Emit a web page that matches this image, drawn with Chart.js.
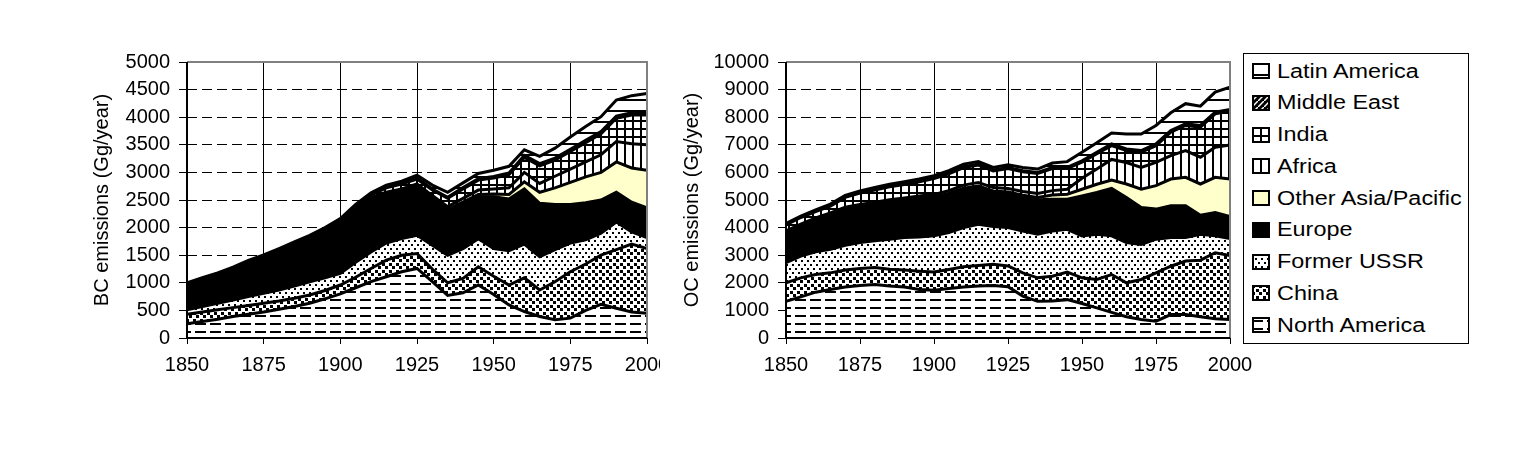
<!DOCTYPE html>
<html>
<head>
<meta charset="utf-8">
<script src="https://cdn.jsdelivr.net/npm/chart.js@4.4.0/dist/chart.umd.min.js"></script>
<style>
  body { margin: 0; background: #fff; width: 1539px; height: 452px; overflow: hidden; position: relative;
         font-family: 'Liberation Sans', Arial, sans-serif; }
  .plot { position: absolute; top: 0; }
  #bcChart { left: 0; }
  #ocChart { left: 660px; }
  #legend { position: absolute; left: 1243px; top: 53px; width: 224px; height: 289px;
            border: 1px solid #000; background: #fff; }
  .item { position: absolute; left: 0; height: 32px; display: flex; align-items: center; }
  .item canvas { margin-left: 8px; margin-right: 7px; }
  .item span { font-size: 20px; transform: scaleX(1.17); transform-origin: left center; white-space: nowrap; }
</style>
</head>
<body>
<canvas id="bcChart" class="plot" width="660" height="452"></canvas>
<canvas id="ocChart" class="plot" width="600" height="452"></canvas>
<div id="legend"></div>
<script>
// years on the x axis (5-year steps)
const years = [1850, 1855, 1860, 1865, 1870, 1875, 1880, 1885, 1890, 1895, 1900, 1905, 1910, 1915, 1920,
               1925, 1930, 1935, 1940, 1945, 1950, 1955, 1960, 1965, 1970, 1975, 1980, 1985, 1990, 1995, 2000];

// stacking order, bottom to top
const regions = ['North America', 'China', 'Former USSR', 'Europe', 'Other Asia/Pacific',
                 'Africa', 'India', 'Middle East', 'Latin America'];

// BC emissions (Gg/year) per region
const bcNorthAmerica = [260, 300, 340, 390, 430, 470, 520, 570, 630, 710, 800, 910, 1020, 1110, 1200,
                        1260, 1020, 770, 820, 960, 790, 600, 480, 390, 330, 360, 500, 610, 540, 470, 450];
const bcChina        = [170, 170, 170, 160, 160, 160, 150, 150, 150, 150, 160, 190, 240, 300, 300,
                        270, 230, 230, 260, 330, 330, 360, 610, 480, 690, 840, 840, 890, 1060, 1230, 1170];
const bcFormerUSSR   = [80, 100, 120, 140, 160, 180, 200, 220, 240, 230, 210, 270, 300, 310, 300,
                        330, 430, 500, 540, 510, 500, 620, 610, 600, 580, 520, 440, 400, 500, 220, 200];
const bcEurope       = [430, 460, 480, 520, 580, 620, 670, 710, 750, 810, 890, 930, 940, 860, 840,
                        860, 820, 800, 800, 760, 940, 940, 1000, 970, 820, 700, 670, 600, 540, 540, 540];
const bcOtherAsia    = [10, 10, 10, 10, 10, 10, 10, 10, 10, 15, 15, 15, 20, 20, 20,
                        30, 30, 30, 40, 40, 50, 80, 130, 200, 300, 400, 470, 500, 550, 620, 680];
const bcAfrica       = [10, 10, 15, 15, 15, 15, 15, 20, 20, 20, 20, 25, 25, 40, 40,
                        40, 50, 50, 70, 80, 90, 120, 170, 160, 210, 240, 270, 320, 370, 440, 460];
const bcIndia        = [15, 20, 20, 25, 25, 25, 25, 30, 30, 35, 35, 40, 45, 80, 90,
                        90, 100, 150, 170, 180, 200, 240, 270, 320, 290, 320, 350, 380, 420, 520, 540];
const bcMiddleEast   = [10, 10, 10, 10, 10, 10, 10, 10, 10, 10, 10, 15, 15, 15, 15,
                        20, 20, 20, 25, 25, 25, 30, 40, 40, 40, 40, 40, 40, 40, 40, 40];
const bcLatinAmerica = [15, 15, 15, 15, 15, 15, 20, 20, 20, 20, 25, 25, 25, 35, 35,
                        50, 70, 90, 85, 95, 115, 120, 100, 130, 180, 220, 250, 270, 290, 310, 350];

// OC emissions (Gg/year) per region
const ocNorthAmerica = [1330, 1490, 1660, 1760, 1850, 1900, 1940, 1880, 1850, 1760, 1730, 1790, 1850, 1880, 1900,
                        1860, 1520, 1330, 1340, 1390, 1250, 1090, 930, 770, 670, 610, 850, 850, 770, 700, 670];
const ocChina        = [670, 690, 640, 600, 610, 620, 610, 610, 610, 660, 660, 690, 730, 750, 770,
                        750, 840, 850, 900, 1000, 930, 1030, 1370, 1230, 1450, 1750, 1750, 1940, 2050, 2390, 2320];
const ocFormerUSSR   = [730, 790, 820, 850, 900, 940, 970, 1090, 1180, 1240, 1310, 1340, 1420, 1490, 1370,
                        1390, 1520, 1580, 1640, 1550, 1520, 1640, 1400, 1460, 1270, 1220, 1040, 850, 940, 610, 610];
const ocEurope       = [1090, 1090, 1160, 1240, 1280, 1270, 1290, 1310, 1310, 1350, 1360, 1360, 1370, 1330, 1230,
                        1230, 1210, 1250, 1150, 1090, 1450, 1510, 1720, 1630, 1340, 1090, 1150, 1150, 690, 850, 800];
const ocOtherAsia    = [20, 25, 25, 30, 35, 40, 40, 45, 45, 50, 55, 55, 60, 60, 60,
                        60, 80, 80, 150, 180, 240, 300, 300, 490, 660, 850, 970, 1030, 1130, 1270, 1360];
const ocAfrica       = [40, 45, 50, 55, 60, 65, 70, 75, 80, 85, 90, 100, 110, 120, 120,
                        130, 140, 150, 160, 180, 400, 550, 750, 780, 790, 840, 850, 970, 970, 1090, 1230];
const ocIndia        = [220, 235, 225, 245, 360, 415, 445, 470, 490, 515, 570, 615, 635, 635, 605,
                        720, 710, 720, 800, 750, 580, 560, 500, 430, 550, 610, 850, 910, 1090, 1210, 1230];
const ocMiddleEast   = [20, 20, 20, 25, 25, 25, 25, 30, 30, 30, 30, 30, 35, 35, 35,
                        40, 40, 40, 40, 40, 50, 50, 60, 60, 60, 60, 60, 60, 60, 60, 60];
const ocLatinAmerica = [30, 35, 40, 45, 50, 55, 60, 60, 65, 70, 75, 80, 90, 90, 90,
                        100, 120, 120, 160, 210, 310, 340, 400, 540, 600, 670, 640, 730, 700, 730, 810];

const bcSeries = [bcNorthAmerica, bcChina, bcFormerUSSR, bcEurope, bcOtherAsia,
                  bcAfrica, bcIndia, bcMiddleEast, bcLatinAmerica];
const ocSeries = [ocNorthAmerica, ocChina, ocFormerUSSR, ocEurope, ocOtherAsia,
                  ocAfrica, ocIndia, ocMiddleEast, ocLatinAmerica];

// fill style for each region, same order as regions
const fillKinds = ['dash', 'squares', 'dots', '#000000', '#FFFFCC', 'vlines', 'grid', 'diag', 'hlines'];

// black & white hatch tiles like the old Excel patterns
function makePattern(kind) {
  const tiles = { dash: [15, 8], squares: [7, 7], dots: [6, 8], vlines: [8, 8], grid: [8, 8], diag: [6, 6], hlines: [8, 11] };
  if (!tiles[kind]) return kind;
  const c = document.createElement('canvas');
  c.width = tiles[kind][0];
  c.height = tiles[kind][1];
  const g = c.getContext('2d');
  g.fillStyle = kind === 'diag' ? '#000' : '#fff';
  g.fillRect(0, 0, c.width, c.height);
  g.fillStyle = '#000';
  if (kind === 'dash') g.fillRect(0, 3, 11, 2);
  if (kind === 'squares') { g.fillRect(0, 0, 3, 3); g.fillRect(4, 4, 3, 3); }
  if (kind === 'dots') { g.fillRect(0, 0, 2, 2); g.fillRect(3, 4, 2, 2); }
  if (kind === 'vlines') g.fillRect(0, 0, 2, 8);
  if (kind === 'grid') { g.fillRect(0, 0, 2, 8); g.fillRect(0, 0, 8, 2); }
  if (kind === 'hlines') g.fillRect(0, 0, 8, 2);
  if (kind === 'diag') {
    g.strokeStyle = '#fff';
    g.lineWidth = 1.5;
    g.beginPath(); g.moveTo(0, 6); g.lineTo(6, 0); g.stroke();
  }
  return g.createPattern(c, 'repeat');
}

// Excel-like plot frame: black axes, grey top/right edge
const plotFrame = {
  id: 'plotFrame',
  afterDatasetsDraw(chart) {
    const { ctx, chartArea: a } = chart;
    ctx.save();
    ctx.lineWidth = 2;
    ctx.strokeStyle = '#808080';
    ctx.beginPath();
    ctx.moveTo(a.left, a.top); ctx.lineTo(a.right, a.top); ctx.lineTo(a.right, a.bottom);
    ctx.stroke();
    ctx.strokeStyle = '#000';
    ctx.beginPath();
    ctx.moveTo(a.left, a.top); ctx.lineTo(a.left, a.bottom); ctx.lineTo(a.right, a.bottom);
    ctx.stroke();
    ctx.restore();
  }
};

Chart.defaults.font.family = "'Liberation Sans', Arial, sans-serif";
Chart.defaults.color = '#000';

function makeChart(canvasId, series, cfg) {
  const datasets = series.map((vals, i) => ({
    label: regions[i],
    data: vals.map((v, k) => ({ x: years[k], y: v })),
    backgroundColor: makePattern(fillKinds[i]),
    borderColor: '#000',
    borderWidth: 3,
    pointRadius: 0,
    tension: 0,
    fill: i === 0 ? 'origin' : '-1'
  }));

  return new Chart(document.getElementById(canvasId), {
    type: 'line',
    data: { datasets },
    options: {
      responsive: false,
      animation: false,
      devicePixelRatio: 1,
      layout: { padding: { left: cfg.padLeft, top: 62, right: cfg.padRight, bottom: 0 } },
      plugins: { legend: { display: false }, tooltip: { enabled: false } },
      scales: {
        x: {
          type: 'linear', min: 1850, max: 2000,
          ticks: { stepSize: 25, padding: 9, font: { size: 20 }, maxRotation: 0, callback: v => String(v) },
          grid: { color: '#000', lineWidth: 1, tickLength: 6, tickColor: '#000' },
          border: { display: false },
          afterFit(s) { s.height = 114; s.paddingLeft = 0; s.paddingRight = 0; }
        },
        y: {
          stacked: true, min: 0, max: cfg.yMax,
          ticks: { stepSize: cfg.yStep, padding: 9, font: { size: 20 }, callback: v => String(v) },
          grid: { color: '#000', lineWidth: 1, tickLength: 8, tickColor: '#000' },
          border: { display: false, dash: [10, 5] },
          title: { display: true, text: cfg.title, font: { size: 20 }, padding: { top: 0, bottom: 0 } },
          afterFit(s) { s.width = cfg.yWidth; }
        }
      }
    },
    plugins: [plotFrame]
  });
}

makeChart('bcChart', bcSeries, { title: 'BC emissions (Gg/year)', yMax: 5000, yStep: 500, padLeft: 90, yWidth: 97, padRight: 13 });
makeChart('ocChart', ocSeries, { title: 'OC emissions (Gg/year)', yMax: 10000, yStep: 1000, padLeft: 20, yWidth: 106, padRight: 30 });

// legend, top entry is the top layer
const legendBox = document.getElementById('legend');
regions.slice().reverse().forEach((name, j) => {
  const i = regions.length - 1 - j;
  const row = document.createElement('div');
  row.className = 'item';
  row.style.top = (1 + j * 31.75) + 'px';
  const sw = document.createElement('canvas');
  sw.width = 18; sw.height = 16;
  const g = sw.getContext('2d');
  g.fillStyle = makePattern(fillKinds[i]);
  g.fillRect(0, 0, 18, 16);
  g.strokeStyle = '#000';
  g.lineWidth = 2;
  g.strokeRect(1, 1, 16, 14);
  const label = document.createElement('span');
  label.textContent = name;
  row.appendChild(sw);
  row.appendChild(label);
  legendBox.appendChild(row);
});
</script>
</body>
</html>
